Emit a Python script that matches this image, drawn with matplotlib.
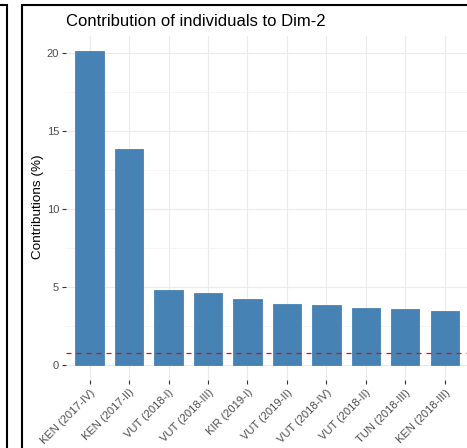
import matplotlib
matplotlib.use("Agg")
import matplotlib.pyplot as plt
from matplotlib.patches import Rectangle
from matplotlib.ticker import MultipleLocator

plt.rcParams['font.family'] = ['Liberation Sans', 'DejaVu Sans']

# contributions of the top individuals to dimension 2
individuals = ['KEN (2017-IV)', 'KEN (2017-II)', 'VUT (2018-I)', 'VUT (2018-III)',
               'KIR (2019-I)', 'VUT (2019-II)', 'VUT (2018-IV)', 'VUT (2018-II)',
               'TUN (2018-III)', 'KEN (2018-III)']
contrib = [20.11, 13.83, 4.79, 4.62, 4.20, 3.90, 3.81, 3.66, 3.55, 3.43]
expected = 0.73  # average contribution reference line

W, H = 467, 448
fig = plt.figure(figsize=(W / 100, H / 100), dpi=100)
fig.patch.set_facecolor('white')

# panel placed in pixel terms, right side runs off the canvas
left, right, top, bottom = 66, 468.4, 35.8, 380.4
ax = fig.add_axes([left / W, (H - bottom) / H, (right - left) / W, (bottom - top) / H])

x = list(range(len(contrib)))
ax.bar(x, contrib, width=0.72, color='steelblue', edgecolor='steelblue', linewidth=0.6, zorder=2)
ax.axhline(expected, color='red', lw=0.9, linestyle=(0, (4, 4)), zorder=3)

pad = 0.05 * max(contrib)
ax.set_xlim(-0.6, len(contrib) - 0.4)
ax.set_ylim(-pad, max(contrib) + pad)

ax.yaxis.set_major_locator(MultipleLocator(5))
ax.yaxis.set_minor_locator(MultipleLocator(2.5))
ax.set_xticks(x)
ax.set_xticklabels(individuals, rotation=45, ha='right', va='top', rotation_mode='anchor')

ax.set_axisbelow(True)
ax.grid(which='major', color='#EBEBEB', lw=0.8)
ax.grid(which='minor', axis='y', color='#F2F2F2', lw=0.5)
for s in ax.spines.values():
    s.set_visible(False)
ax.tick_params(which='major', length=3, width=0.8, color='#333333',
               labelcolor='#4D4D4D', labelsize=8, pad=2)
ax.tick_params(which='minor', length=0)

fig.text(left / W, (H - 26.5) / H, 'Contribution of individuals to Dim-2',
         fontsize=12, ha='left', va='baseline', color='black')
fig.text(37.5 / W, (H - 207) / H, 'Contributions (%)', rotation=90,
         fontsize=9.7, ha='center', va='center', color='black')

# outer frames
fig.add_artist(Rectangle((22 / W, -0.1), 1.2, (H - 5) / H + 0.1, transform=fig.transFigure,
                         fill=False, edgecolor='black', lw=1.5, clip_on=False))
fig.add_artist(Rectangle((-0.5, -0.1), 0.5 + 6.5 / W, (H - 5) / H + 0.1, transform=fig.transFigure,
                         fill=False, edgecolor='black', lw=1.5, clip_on=False))

fig.savefig('out.png', dpi=100)
